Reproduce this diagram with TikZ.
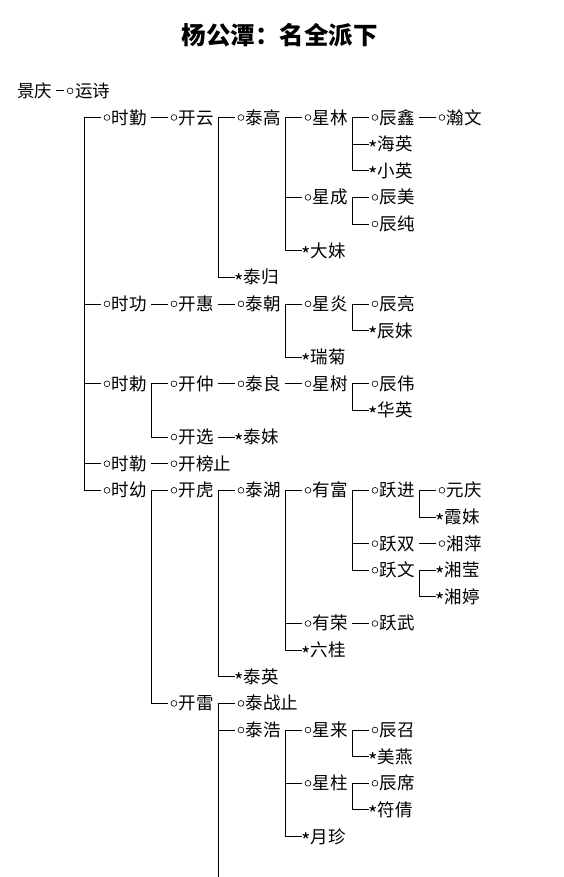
\documentclass[tikz,border=0pt]{standalone}
\usepackage{fontspec}
\setmainfont{Noto Sans CJK SC}
\newcommand\om{\makebox[11pt][r]{\tikz[baseline=-6.5pt]\draw[line width=0.6pt] (0,0) circle (2.9pt);\hspace{1.8pt}}}
\newcommand\fm{\makebox[9pt][l]{\raisebox{-5.6pt}{\fontsize{20pt}{20pt}\selectfont *}}}

\tikzset{
  kin/.style={anchor=west, inner sep=0pt, font=\fontsize{17.5pt}{17.5pt}\selectfont,
    text height=13pt, text depth=0pt, execute at end node=\hspace{4pt}},
  son/.style={kin, execute at begin node=\om},
  girl/.style={kin, execute at begin node=\fm},
  link/.style={line width=0.8pt},
}

\begin{document}
\begin{tikzpicture}[x=67pt, y=-26.63pt]
    \useasboundingbox (-0.2537,-4.4124) rectangle (8.1493,28.520);

    \node[font=\bfseries\fontsize{24.5pt}{24.5pt}\selectfont] (title) at (3.925,-3.098) {杨公潭：名全派下};

    \node[kin] (jingqing) at (0,-1) {景庆};
    \node[son] (yunshi) at (0.70,-1) {运诗};

    \node[son] (shiqin) at (1.25,0) {时勤};
    \node[son] (kaiyun) at (2.25,0) {开云};
    \node[son] (taigao) at (3.25,0) {泰高};
    \node[son] (xinglin) at (4.25,0) {星林};
    \node[son] (chenxin) at (5.25,0) {辰鑫};
    \node[son] (hanwen) at (6.25,0) {瀚文};
    \node[girl] (haiying) at (5.25,1) {海英};
    \node[girl] (xiaoying) at (5.25,2) {小英};
    \node[son] (xingcheng) at (4.25,3) {星成};
    \node[son] (chenmei) at (5.25,3) {辰美};
    \node[son] (chenchun) at (5.25,4) {辰纯};
    \node[girl] (damei) at (4.25,5) {大妹};
    \node[girl] (taigui) at (3.25,6) {泰归};

    \node[son] (shigong) at (1.25,7) {时功};
    \node[son] (kaihui) at (2.25,7) {开惠};
    \node[son] (taichao) at (3.25,7) {泰朝};
    \node[son] (xingyan) at (4.25,7) {星炎};
    \node[son] (chenliang) at (5.25,7) {辰亮};
    \node[girl] (chenmeii) at (5.25,8) {辰妹};
    \node[girl] (ruiju) at (4.25,9) {瑞菊};

    \node[son] (shichi) at (1.25,10) {时勅};
    \node[son] (kaizhong) at (2.25,10) {开仲};
    \node[son] (tailiang) at (3.25,10) {泰良};
    \node[son] (xingshu) at (4.25,10) {星树};
    \node[son] (chenwei) at (5.25,10) {辰伟};
    \node[girl] (huaying) at (5.25,11) {华英};
    \node[son] (kaixuan) at (2.25,12) {开选};
    \node[girl] (taimei) at (3.25,12) {泰妹};

    \node[son] (shile) at (1.25,13) {时勒};
    \node[son] (kaibang) at (2.25,13) {开榜止};

    \node[son] (shiyou) at (1.25,14) {时幼};
    \node[son] (kaihu) at (2.25,14) {开虎};
    \node[son] (taihu) at (3.25,14) {泰湖};
    \node[son] (youfu) at (4.25,14) {有富};
    \node[son] (yuejin) at (5.25,14) {跃进};
    \node[son] (yuanqing) at (6.25,14) {元庆};
    \node[girl] (xiamei) at (6.25,15) {霞妹};
    \node[son] (yueshuang) at (5.25,16) {跃双};
    \node[son] (xiangping) at (6.25,16) {湘萍};
    \node[son] (yuewen) at (5.25,17) {跃文};
    \node[girl] (xiangying) at (6.25,17) {湘莹};
    \node[girl] (xiangting) at (6.25,18) {湘婷};
    \node[son] (yourong) at (4.25,19) {有荣};
    \node[son] (yuewu) at (5.25,19) {跃武};
    \node[girl] (liugui) at (4.25,20) {六桂};
    \node[girl] (taiying) at (3.25,21) {泰英};
    \node[son] (kailei) at (2.25,22) {开雷};
    \node[son] (taizhan) at (3.25,22) {泰战止};
    \node[son] (taihao) at (3.25,23) {泰浩};
    \node[son] (xinglai) at (4.25,23) {星来};
    \node[son] (chenzhao) at (5.25,23) {辰召};
    \node[girl] (meiyan) at (5.25,24) {美燕};
    \node[son] (xingzhu) at (4.25,25) {星柱};
    \node[son] (chenxi) at (5.25,25) {辰席};
    \node[girl] (fuqian) at (5.25,26) {符倩};
    \node[girl] (yuezhen) at (4.25,27) {月珍};

    \coordinate (trunk) at (1,0);
    \coordinate (more) at (0,28.6);

    \draw[link] (jingqing.east) -- (yunshi.west);
    \foreach \b in {shiqin,shigong,shichi,shile,shiyou}
        \draw[link] (trunk) |- (\b.west);
    \foreach \a/\b in {shiqin/kaiyun, kaiyun/taigao, kaiyun/taigui, taigao/xinglin,
        taigao/xingcheng, taigao/damei, xinglin/chenxin, xinglin/haiying, xinglin/xiaoying,
        chenxin/hanwen, xingcheng/chenmei, xingcheng/chenchun,
        shigong/kaihui, kaihui/taichao, taichao/xingyan, taichao/ruiju,
        xingyan/chenliang, xingyan/chenmeii,
        shichi/kaizhong, shichi/kaixuan, kaizhong/tailiang, tailiang/xingshu,
        xingshu/chenwei, xingshu/huaying, kaixuan/taimei,
        shile/kaibang,
        shiyou/kaihu, shiyou/kailei, kaihu/taihu, kaihu/taiying, taihu/youfu,
        taihu/yourong, taihu/liugui, youfu/yuejin, youfu/yueshuang, youfu/yuewen,
        yuejin/yuanqing, yuejin/xiamei, yueshuang/xiangping, yuewen/xiangying,
        yuewen/xiangting, yourong/yuewu,
        kailei/taizhan, kailei/taihao, taihao/xinglai, taihao/xingzhu, taihao/yuezhen,
        xinglai/chenzhao, xinglai/meiyan, xingzhu/chenxi, xingzhu/fuqian}
        \draw[link] (\a.east) |- (\b.west);
    \draw[link] (kailei.east) -- (kailei.east |- more);
\end{tikzpicture}
\end{document}
